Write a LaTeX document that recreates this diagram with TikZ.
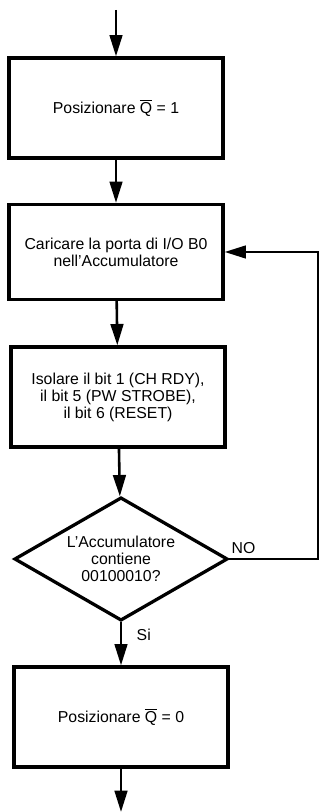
\documentclass[tikz,border=0pt]{standalone}
\usepackage{fontspec}
\setmainfont{Liberation Sans}
\usepackage{tikz}
\usetikzlibrary{arrows.meta,positioning,shapes.geometric}

\begin{document}
\begin{tikzpicture}[x=.03cm,y=.03cm,>={Triangle[length=6.4mm,width=3.8mm]},
    font=\fontsize{13.5}{14.5}\selectfont,line width=2.8pt,
    procbox/.style={draw,rectangle,minimum width=6.42cm,minimum height=3cm,align=center,inner sep=0pt},
    testdiamond/.style={draw,diamond,shape aspect=1.73,minimum width=6.4cm,minimum height=3.7cm,align=center,inner sep=0pt},
    flow/.style={->,line width=2.2pt}]
    \useasboundingbox (0,0) rectangle (320,812);
    \coordinate (start) at (116,802);
    \node[procbox] (setq) at (116,704) {Posizionare $\overline{\mbox{Q}}$ = 1};
    \node[procbox,minimum height=2.85cm] (load) at (116,560) {Caricare la porta di I/O B0\\nell'Accumulatore};
    \node[procbox] (mask) at (118,415) {Isolare il bit 1 (CH RDY),\\il bit 5 (PW STROBE),\\il bit 6 (RESET)};
    \node[testdiamond] (test) at (121,253) {L'Accumulatore\\contiene\\00100010?};
    \node[procbox] (clrq) at (121,95) {Posizionare $\overline{\mbox{Q}}$ = 0};
    \coordinate (stop) at (121,0);
    \draw[flow] (start)--(setq);
    \draw[flow] (setq)--(load);
    \draw[flow] (load)--(mask);
    \draw[flow] (mask)--(test);
    \draw[flow] (test)--node[right=9pt,pos=.3]{Si}(clrq);
    \draw[flow] (clrq)--(stop);
    % NO branch goes back to the load step
    \draw[flow] (test.east)--node[above,pos=.16]{NO}(318,253)|-(load.east);
  \end{tikzpicture}
\end{document}
